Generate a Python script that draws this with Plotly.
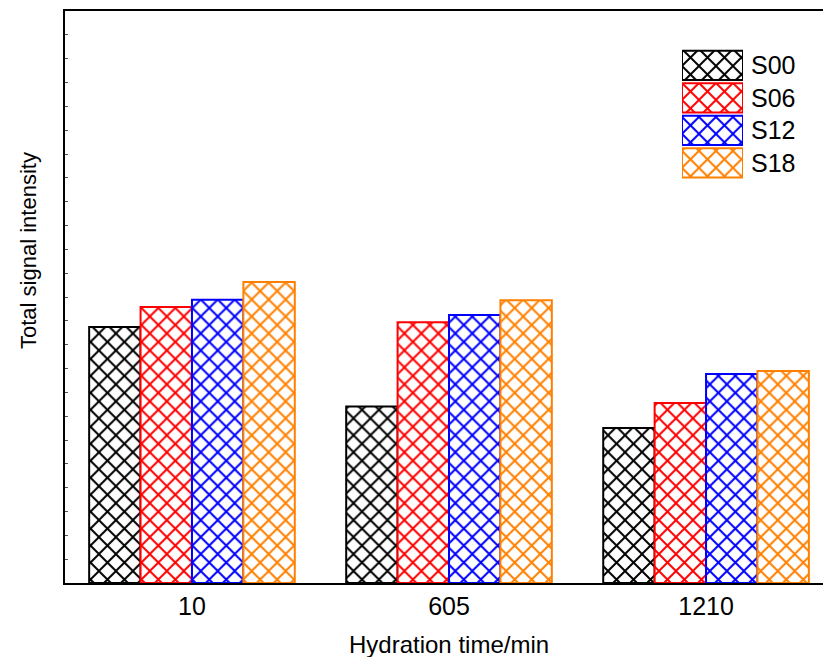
import plotly.graph_objects as go

categories = ["10", "605", "1210"]
series_names = ["S00", "S06", "S12", "S18"]
series_colors = ["#000000", "#FF0000", "#0000FF", "#FF8000"]
s00 = [10.74, 7.41, 6.50]
s06 = [11.58, 10.94, 7.55]
s12 = [11.88, 11.25, 8.77]
s18 = [12.63, 11.86, 8.90]
series_values = [s00, s06, s12, s18]

FONT = "Liberation Sans, Arial, sans-serif"
W, H = 823, 657
ML, MR, MT, MB = 65, 0, 11, 74

PAT_SIZE = 12
PAT_SOL = 0.3

fig = go.Figure()
for name, color, vals in zip(series_names, series_colors, series_values):
    fig.add_trace(go.Bar(
        x=categories, y=vals, name=name, showlegend=False,
        marker=dict(color="white",
                    line=dict(color=color, width=2),
                    pattern=dict(shape="x", fgcolor=color, bgcolor="white",
                                 fillmode="replace", size=PAT_SIZE,
                                 solidity=PAT_SOL)),
    ))

# legend swatches drawn as pattern bars on an overlay axis
fig.add_trace(go.Bar(
    x=[1] * len(series_names), y=series_names, orientation="h",
    xaxis="x2", yaxis="y2", showlegend=False, width=0.9,
    marker=dict(color="white",
                line=dict(color=series_colors, width=2),
                pattern=dict(shape="x", fgcolor=series_colors, bgcolor="white",
                             fillmode="replace", size=PAT_SIZE,
                             solidity=PAT_SOL)),
))

pw = W - ML - MR
ph = H - MT - MB
def px_x(p):
    return (p - ML) / pw
def px_y(p):
    return (H - MB - p) / ph

annotations = []
for name in series_names:
    annotations.append(dict(x=px_x(749), xref="paper", y=name, yref="y2",
                            text=name, showarrow=False, xanchor="left",
                            yanchor="middle",
                            font=dict(family=FONT, size=25, color="black")))

annotations.append(dict(x=px_x(449), xref="paper", y=px_y(660), yref="paper",
                        text="Hydration time/min", showarrow=False,
                        xanchor="center", yanchor="bottom",
                        font=dict(family=FONT, size=24, color="black")))
annotations.append(dict(x=px_x(28), xref="paper", y=px_y(251), yref="paper",
                        text="Total signal intensity", showarrow=False,
                        textangle=-90, xanchor="center", yanchor="middle",
                        font=dict(family=FONT, size=22, color="black")))

fig.update_layout(
    width=W, height=H,
    margin=dict(l=ML, r=MR, t=MT, b=MB, autoexpand=False),
    paper_bgcolor="white", plot_bgcolor="white",
    barmode="group", bargap=0.2, bargroupgap=0,
    font=dict(family=FONT, size=22, color="black"),
    xaxis=dict(type="category", range=[-0.494, 2.455], automargin=False,
               showline=True, linecolor="black", linewidth=2, mirror=True,
               ticks="", showgrid=False, zeroline=False,
               tickfont=dict(family=FONT, size=25, color="black")),
    yaxis=dict(range=[0, 24], dtick=1, showline=True, linecolor="black",
               linewidth=2, mirror=False, ticks="inside", ticklen=3,
               tickcolor="#555", showticklabels=False, showgrid=False,
               zeroline=False, automargin=False),
    xaxis2=dict(domain=[px_x(682), px_x(743)], anchor="y2", range=[0, 1],
                visible=False, fixedrange=True),
    yaxis2=dict(domain=[px_y(179), px_y(49)], anchor="x2",
                range=[3.5, -0.5], type="category",
                categoryorder="array", categoryarray=series_names,
                visible=False, fixedrange=True),
    annotations=annotations,
)

fig.write_html("out.html",
               config={"displayModeBar": False},
               post_script="document.body.style.margin='0px';"
                           "document.body.style.overflow='hidden';")
